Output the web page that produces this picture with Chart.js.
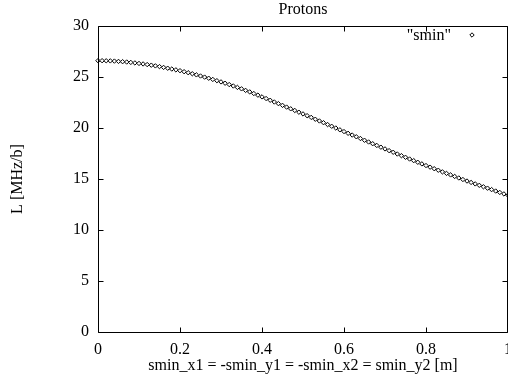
<!DOCTYPE html>
<html>
<head>
<meta charset="utf-8">
<script src="https://cdn.jsdelivr.net/npm/chart.js@4/dist/chart.umd.min.js"></script>
<style>
  html, body { margin: 0; padding: 0; background: #fff; overflow: hidden; }
  #wrap { width: 508px; height: 377px; position: relative; }
</style>
</head>
<body>
<div id="wrap"><canvas id="c"></canvas></div>
<script>
// smin offset [m] and luminosity [MHz/b]
const sminValues = [
    0.00, 0.01, 0.02, 0.03, 0.04, 0.05, 0.06, 0.07, 0.08, 0.09,
    0.10, 0.11, 0.12, 0.13, 0.14, 0.15, 0.16, 0.17, 0.18, 0.19,
    0.20, 0.21, 0.22, 0.23, 0.24, 0.25, 0.26, 0.27, 0.28, 0.29,
    0.30, 0.31, 0.32, 0.33, 0.34, 0.35, 0.36, 0.37, 0.38, 0.39,
    0.40, 0.41, 0.42, 0.43, 0.44, 0.45, 0.46, 0.47, 0.48, 0.49,
    0.50, 0.51, 0.52, 0.53, 0.54, 0.55, 0.56, 0.57, 0.58, 0.59,
    0.60, 0.61, 0.62, 0.63, 0.64, 0.65, 0.66, 0.67, 0.68, 0.69,
    0.70, 0.71, 0.72, 0.73, 0.74, 0.75, 0.76, 0.77, 0.78, 0.79,
    0.80, 0.81, 0.82, 0.83, 0.84, 0.85, 0.86, 0.87, 0.88, 0.89,
    0.90, 0.91, 0.92, 0.93, 0.94, 0.95, 0.96, 0.97, 0.98, 0.99,
    1.00
];
const lumiValues = [
    26.60, 26.60, 26.59, 26.58, 26.56, 26.53, 26.50, 26.47, 26.43, 26.38,
    26.33, 26.28, 26.22, 26.16, 26.09, 26.02, 25.94, 25.86, 25.78, 25.70,
    25.62, 25.52, 25.42, 25.32, 25.21, 25.10, 24.99, 24.88, 24.76, 24.64,
    24.52, 24.39, 24.26, 24.12, 23.98, 23.84, 23.69, 23.54, 23.38, 23.22,
    23.05, 22.89, 22.72, 22.55, 22.39, 22.22, 22.05, 21.88, 21.72, 21.55,
    21.38, 21.21, 21.04, 20.86, 20.69, 20.52, 20.34, 20.17, 20.00, 19.82,
    19.65, 19.48, 19.31, 19.14, 18.97, 18.80, 18.63, 18.46, 18.29, 18.12,
    17.95, 17.78, 17.62, 17.45, 17.29, 17.13, 16.96, 16.80, 16.64, 16.48,
    16.32, 16.16, 16.01, 15.86, 15.70, 15.55, 15.40, 15.25, 15.10, 14.95,
    14.80, 14.66, 14.52, 14.38, 14.24, 14.10, 13.96, 13.82, 13.68, 13.54,
    13.40
];
const xTicks = [0, 0.2, 0.4, 0.6, 0.8, 1];
const yTicks = [0, 5, 10, 15, 20, 25, 30];

const FONT = "'Liberation Serif', 'DejaVu Serif', serif";

// gnuplot-like frame: box, inward ticks on all four sides, title, key
const framePlugin = {
    id: "frame",
    afterDraw(chart) {
        const { ctx, chartArea: a, scales } = chart;
        const xs = scales.x, ys = scales.y;
        const L = Math.round(a.left) + 0.5, R = Math.round(a.right) - 0.5;
        const T = Math.round(a.top) + 0.5, B = Math.round(a.bottom) + 0.5;
        ctx.save();
        ctx.strokeStyle = "#000";
        ctx.lineWidth = 1;
        ctx.beginPath();
        ctx.rect(L, T, R - L, B - T);
        for (const v of xTicks) {
            const px = Math.min(R, Math.round(xs.getPixelForValue(v)) + 0.5);
            ctx.moveTo(px, B); ctx.lineTo(px, B - 5);
            ctx.moveTo(px, T); ctx.lineTo(px, T + 5);
        }
        for (const v of yTicks) {
            const py = Math.round(ys.getPixelForValue(v)) + 0.5;
            ctx.moveTo(L, py); ctx.lineTo(L + 5, py);
            ctx.moveTo(R, py); ctx.lineTo(R - 5, py);
        }
        ctx.stroke();

        ctx.fillStyle = "#000";
        ctx.font = "16px " + FONT;
        ctx.textBaseline = "middle";
        ctx.textAlign = "center";
        ctx.fillText("Protons", (a.left + a.right) / 2, 10);

        // key, top right
        ctx.textAlign = "right";
        ctx.fillText('"smin"', 451, 36);
        ctx.fillStyle = "#fff";
        ctx.strokeStyle = "#000";
        Chart.helpers.drawPoint(ctx, { pointStyle: "rectRot", radius: 2.2, borderWidth: 1 }, 472, 35);
        ctx.restore();
    }
};

new Chart(document.getElementById("c"), {
    type: "scatter",
    data: {
        datasets: [{
            label: '"smin"',
            data: sminValues.map((x, i) => ({ x, y: lumiValues[i] })),
            pointStyle: "rectRot",
            pointRadius: 2.2,
            pointBorderWidth: 1,
            pointBorderColor: "#000",
            pointBackgroundColor: "#fff",
            showLine: false,
            clip: false
        }]
    },
    options: {
        responsive: true,
        maintainAspectRatio: false,
        animation: false,
        layout: { autoPadding: false, padding: { top: 26, right: 0, left: 0, bottom: 0 } },
        plugins: { legend: { display: false }, tooltip: { enabled: false } },
        scales: {
            x: {
                type: "linear",
                min: 0, max: 1,
                afterBuildTicks: s => { s.ticks = xTicks.map(v => ({ value: v })); },
                afterFit: s => { s.height = 45; s.paddingLeft = 0; s.paddingRight = 0; },
                grid: { display: false, drawTicks: false },
                border: { display: false },
                ticks: { color: "#000", padding: 8, maxRotation: 0, font: { family: FONT, size: 16 }, callback: v => String(v) },
                title: { display: true, text: "smin_x1 = -smin_y1 = -smin_x2 = smin_y2 [m]", color: "#000", padding: { top: 0, bottom: 2 }, font: { family: FONT, size: 16 } }
            },
            y: {
                type: "linear",
                min: 0, max: 30,
                afterBuildTicks: s => { s.ticks = yTicks.map(v => ({ value: v })); },
                afterFit: s => { s.width = 98; s.paddingTop = 0; s.paddingBottom = 0; },
                grid: { display: false, drawTicks: false },
                border: { display: false },
                ticks: { color: "#000", padding: 9, font: { family: FONT, size: 16 } },
                title: { display: true, text: "L [MHz/b]", color: "#000", padding: { top: 8, bottom: 0 }, font: { family: FONT, size: 16 } }
            }
        }
    },
    plugins: [framePlugin]
});
</script>
</body>
</html>
